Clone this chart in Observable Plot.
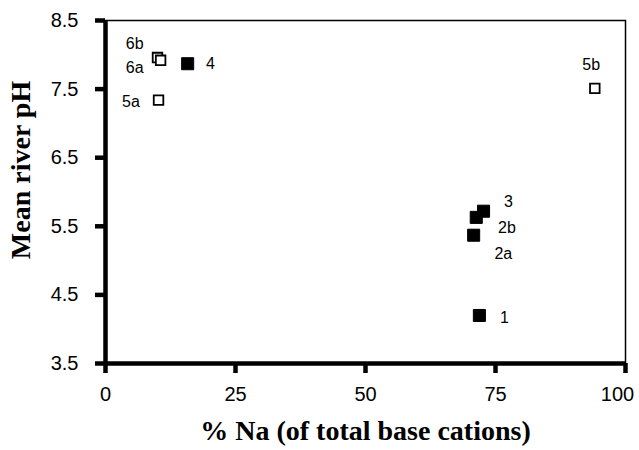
<!DOCTYPE html>
<html>
<head>
<meta charset="utf-8">
<script src="https://cdn.jsdelivr.net/npm/d3@7"></script>
<script src="https://cdn.jsdelivr.net/npm/@observablehq/plot@0.6"></script>
<style>
  html, body { margin: 0; padding: 0; background: #fff; }
</style>
</head>
<body>
<div id="chart"></div>
<script>
// Site labels
const sites = ["6b", "6a", "4", "5a", "5b", "3", "2b", "2a", "1"];
// % Na of total base cations
const naPct = [10.0, 10.6, 15.8, 10.2, 94.1, 72.7, 71.3, 70.8, 71.9];
// Mean river pH
const meanPH = [7.96, 7.92, 7.87, 7.34, 7.51, 5.72, 5.63, 5.37, 4.20];
// Filled (true) or open (false) marker
const filled = [false, false, true, false, false, true, true, true, true];
// Label anchor positions (data units)
const labelX = [5.6, 5.6, 20.2, 4.9, 93.4, 77.5, 77.2, 76.5, 76.7];
const labelY = [8.16, 7.81, 7.87, 7.32, 7.85, 5.86, 5.48, 5.10, 4.17];
// Axis ticks
const xTicks = [0, 25, 50, 75, 100];
const yTicks = [3.5, 4.5, 5.5, 6.5, 7.5, 8.5];
const xTitle = "% Na (of total base cations)";
const yTitle = "Mean river pH";

const points = sites.map((s, i) => ({site: s, x: naPct[i], y: meanPH[i], filled: filled[i]}));
const labels = sites.map((s, i) => ({site: s, x: labelX[i], y: labelY[i]}));

const sans = "'Liberation Sans', Arial, sans-serif";
const serif = "'Liberation Serif', 'Times New Roman', serif";

const chart = Plot.plot({
  width: 639,
  height: 450,
  marginLeft: 105,
  marginRight: 14,
  marginTop: 20,
  marginBottom: 87,
  style: {fontFamily: sans, background: "#fff", color: "#000"},
  x: {domain: [0, 100]},
  y: {domain: [3.5, 8.5]},
  marks: [
    Plot.frame({stroke: "#000", strokeWidth: 1.5}),
    Plot.ruleX([0], {strokeWidth: 4.5, stroke: "#000"}),
    Plot.ruleY([3.5], {strokeWidth: 4.5, stroke: "#000"}),
    // x tick marks
    Plot.axisX({ticks: xTicks, tickSize: 10, strokeWidth: 4.5, tickFormat: () => "", label: null}),
    // x tick labels (last one pulled inside like the original)
    Plot.axisX({ticks: xTicks.slice(0, -1), tickSize: 0, tickPadding: 23,
      fontSize: 20, label: null, tickFormat: d => String(d)}),
    Plot.axisX({ticks: xTicks.slice(-1), tickSize: 0, tickPadding: 23, dx: -8,
      fontSize: 20, label: null, tickFormat: d => String(d)}),
    Plot.axisY({ticks: yTicks, tickSize: 10, strokeWidth: 4.5, tickPadding: 17,
      fontSize: 20, label: null, tickFormat: d3.format(".1f")}),
    Plot.dot(points.filter(d => !d.filled), {x: "x", y: "y", symbol: "square", r: 5.4,
      fill: "#fff", stroke: "#000", strokeWidth: 1.8}),
    Plot.dot(points.filter(d => d.filled), {x: "x", y: "y", symbol: "square", r: 6.8,
      fill: "#000", stroke: "#000", strokeWidth: 1}),
    Plot.text(labels, {x: "x", y: "y", text: "site", fontSize: 16,
      textAnchor: "middle", lineAnchor: "middle", fill: "#000"}),
    Plot.text([xTitle], {frameAnchor: "bottom", text: d => d, dy: 68, lineAnchor: "middle",
      textAnchor: "middle", fontSize: 28, fontWeight: "bold", fontFamily: serif, fill: "#000"}),
    Plot.text([yTitle], {frameAnchor: "left", text: d => d, dx: -84, dy: -22, rotate: -90,
      textAnchor: "middle", lineAnchor: "middle", fontSize: 28, fontWeight: "bold",
      fontFamily: serif, fill: "#000"})
  ]
});
document.getElementById("chart").appendChild(chart);
</script>
</body>
</html>
